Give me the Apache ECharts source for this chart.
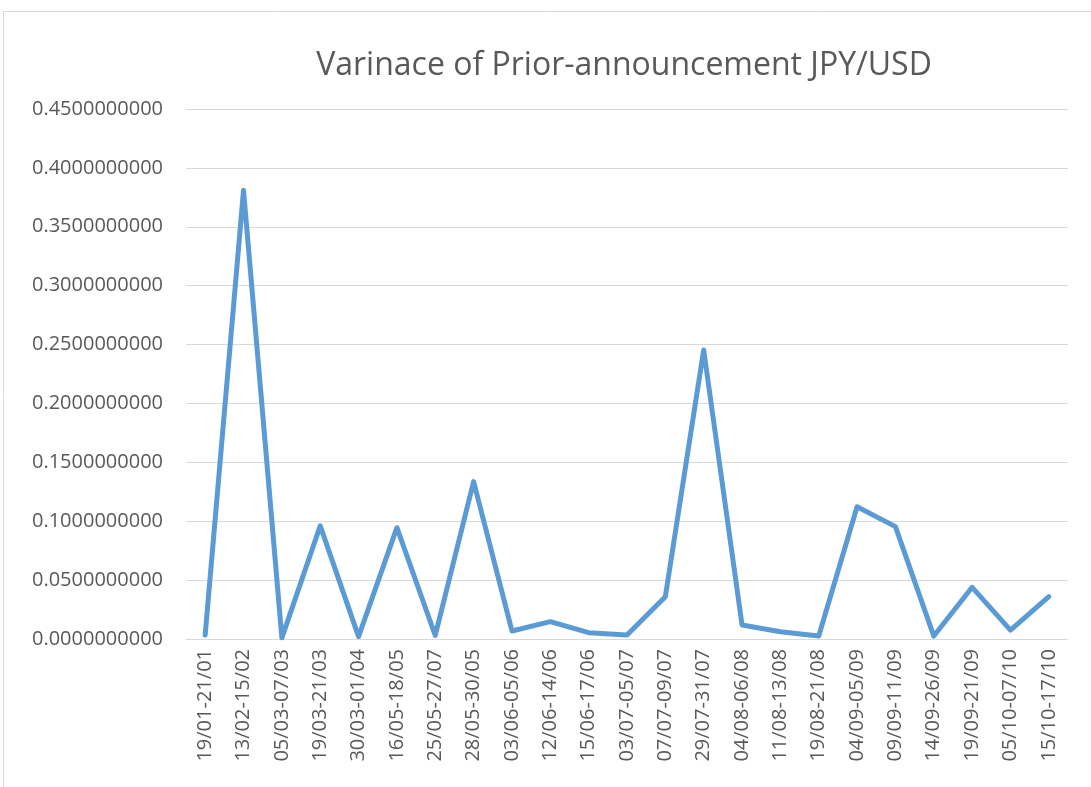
<!DOCTYPE html>
<html>
<head>
<meta charset="utf-8">
<script src="https://cdn.jsdelivr.net/npm/echarts@6/dist/echarts.min.js"></script>
<style>html,body{margin:0;padding:0;background:#fff}#c{width:1091px;height:787px}</style>
</head>
<body>
<div id="c"></div>
<script>
const categories = ['19/01-21/01','13/02-15/02','05/03-07/03','19/03-21/03','30/03-01/04','16/05-18/05','25/05-27/07','28/05-30/05','03/06-05/06','12/06-14/06','15/06-17/06','03/07-05/07','07/07-09/07','29/07-31/07','04/08-06/08','11/08-13/08','19/08-21/08','04/09-05/09','09/09-11/09','14/09-26/09','19/09-21/09','05/10-07/10','15/10-17/10'];
const values = [0.0034,0.381,0.001,0.096,0.002,0.0945,0.003,0.1336,0.0068,0.0147,0.0054,0.0034,0.0359,0.2454,0.0119,0.0062,0.0025,0.1123,0.0954,0.0025,0.0439,0.0076,0.0359];
const titleText = 'Varinace of Prior-announcement JPY/USD';

const chart = echarts.init(document.getElementById('c'));
chart.setOption({
  animation: false,
  backgroundColor: '#fff',
  graphic: [{type:'rect', shape:{x:3.5,y:11.5,width:1100,height:800}, style:{fill:'none', stroke:'#d9d9d9', lineWidth:1}, silent:true}],
  title: {text: titleText, left: 619, textAlign: 'center', top: 45,
    textStyle: {fontFamily: 'Open Sans', fontWeight: 'normal', fontSize: 32, color: '#595959'}},
  grid: {left: 186, right: 23, top: 109, bottom: 148, containLabel: false},
  xAxis: {type: 'category', data: categories, boundaryGap: true,
    axisLine: {lineStyle: {color: '#d9d9d9', width: 1}},
    axisTick: {show: false},
    axisLabel: {rotate: 90, interval: 0, margin: 10, color: '#595959', fontFamily: 'Open Sans', fontSize: 20}},
  yAxis: {type: 'value', min: 0, max: 0.45, interval: 0.05,
    axisLine: {show: false}, axisTick: {show: false},
    splitLine: {lineStyle: {color: '#d9d9d9', width: 1}},
    axisLabel: {formatter: v => v.toFixed(10), margin: 23, color: '#595959', fontFamily: 'Open Sans', fontSize: 20}},
  series: [{type: 'line', data: values, symbol: 'none', lineStyle: {color: '#5b9bd5', width: 5, cap: 'round', join: 'round'}}]
});
</script>
</body>
</html>
